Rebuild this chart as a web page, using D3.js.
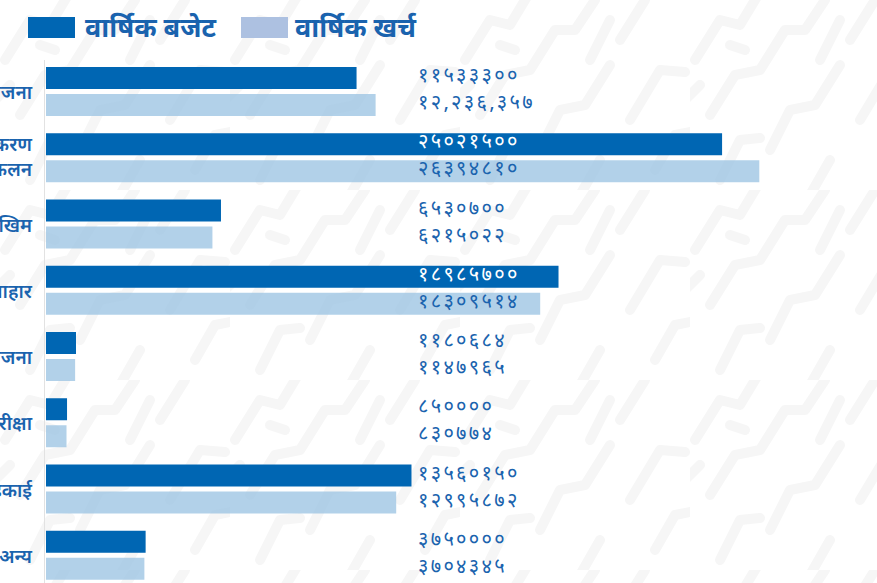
<!DOCTYPE html>
<html><head><meta charset="utf-8">
<script src="https://cdn.jsdelivr.net/npm/d3@7/dist/d3.min.js"></script>
<style>
html,body{margin:0;padding:0;background:#fff;overflow:hidden;}
svg{display:block;}
</style></head>
<body>
<svg id="chart" width="877" height="583"></svg>
<script>
const categories = [
  ["पूर्वाधार योजना"],
  ["क्षमता सशक्तिकरण", "राजस्व संकलन"],
  ["विपद् जोखिम"],
  ["पोषण आहार"],
  ["सामाजिक योजना"],
  ["अनुगमन परीक्षा"],
  ["स्थानीय इकाई"],
  ["अन्य"]
];
const seriesNames = ["वार्षिक बजेट", "वार्षिक खर्च"];
const budget  = [11533300, 25021500, 6530700, 18985700, 1180684, 850000, 13560150, 3750000];
const expense = [12236357, 26394810, 6215022, 18309514, 1147965, 830774, 12995872, 3704345];
const budgetLabels  = ["११५३३३००","२५०२१५००","६५३०७००","१८९८५७००","११८०६८४","८५००००","१३५६०१५०","३७५००००"];
const expenseLabels = ["१२,२३६,३५७","२६३९४८१०","६२१५०२२","१८३०९५१४","११४७९६५","८३०७७४","१२९९५८७२","३७०४३४५"];

const W = 877, H = 583;
const svg = d3.select("#chart");
const DARK = "#0066b3", LIGHT = "#9fc5e3", LEG_LIGHT = "#adc1e1", TXT = "#1a63ae";

// faint maze-like background
const defs = svg.append("defs");
const pat = defs.append("pattern").attr("id","bg").attr("patternUnits","userSpaceOnUse")
  .attr("width",230).attr("height",190);
const pp = [
  "M5,60 L30,20 L50,25 L68,-5",
  "M20,115 L45,75 L70,70 L95,30 L115,30 L135,0",
  "M80,150 L100,110 L125,105 L150,65",
  "M-5,100 L10,85",
  "M55,50 L40,45",
  "M160,40 L185,0",
  "M170,120 L200,70 L225,72",
  "M30,180 L50,140 L70,138",
  "M120,195 L140,160",
  "M195,170 L215,135 L240,130",
  "M150,20 L130,60"
];
pat.selectAll("path").data(pp).join("path").attr("d",d=>d)
  .attr("fill","none").attr("stroke","#f6f6f6").attr("stroke-width",10)
  .attr("stroke-linecap","round").attr("stroke-linejoin","round");
svg.append("rect").attr("width",W).attr("height",H).attr("fill","url(#bg)");

const x = d3.scaleLinear().domain([0, 30000000]).range([44, 857]);
const y = d3.scaleBand().domain(d3.range(categories.length)).range([60, 590]).padding(0);
const barH = 22, off1 = 7, off2 = 34, gapL = 2;

// axis line
svg.append("line").attr("x1",44.5).attr("x2",44.5).attr("y1",60).attr("y2",H)
  .attr("stroke","#e2e2e2").attr("stroke-width",1);

const g = svg.append("g");
g.selectAll("rect.b").data(budget).join("rect").attr("class","b")
  .attr("x",x(0)+gapL).attr("y",(d,i)=>y(i)+off1).attr("width",d=>x(d)-x(0)-gapL).attr("height",barH)
  .attr("fill",DARK);
g.selectAll("rect.e").data(expense).join("rect").attr("class","e")
  .attr("x",x(0)+gapL).attr("y",(d,i)=>y(i)+off2).attr("width",d=>x(d)-x(0)-gapL).attr("height",barH)
  .attr("fill",LIGHT).attr("fill-opacity",0.8);

const labX = 418;
const numFont = "'Noto Sans Devanagari','Noto Sans','DejaVu Sans',sans-serif";
g.selectAll("text.bl").data(budget).join("text").attr("class","bl")
  .attr("x",labX).attr("y",(d,i)=>y(i)+off1+15)
  .attr("font-family",numFont).attr("font-size",20).attr("font-weight",400)
  .attr("letter-spacing",2.3)
  .attr("fill",d=>x(d) > labX+60 ? "#ffffff" : TXT)
  .text((d,i)=>budgetLabels[i]);
g.selectAll("text.el").data(expense).join("text").attr("class","el")
  .attr("x",labX).attr("y",(d,i)=>y(i)+off2+15)
  .attr("font-family",numFont).attr("font-size",20).attr("font-weight",400)
  .attr("letter-spacing",2.3)
  .attr("fill",TXT)
  .text((d,i)=>expenseLabels[i]);

// category labels (cut off at left like the reference)
const cl = svg.append("g");
categories.forEach((lines,i)=>{
  const t = cl.append("text").attr("text-anchor","end")
    .attr("font-family",numFont).attr("font-size",19).attr("font-weight",600).attr("fill",TXT);
  if (lines.length === 1) {
    t.append("tspan").attr("x",32).attr("y",y(i)+off1+28+4).text(lines[0]);
  } else {
    t.append("tspan").attr("x",32).attr("y",y(i)+off1+barH/2+7).text(lines[0]);
    t.append("tspan").attr("x",32).attr("y",y(i)+off2+barH/2+5).text(lines[1]);
  }
});

// legend
const leg = svg.append("g");
const legItems = [{c:DARK, x:28, tx:85},{c:LEG_LIGHT, x:241, tx:295}];
legItems.forEach((it,i)=>{
  leg.append("rect").attr("x",it.x).attr("y",17).attr("width",47).attr("height",21).attr("fill",it.c);
  leg.append("text").attr("x",it.tx).attr("y",37)
    .attr("font-family",numFont).attr("font-size",27).attr("font-weight",700).attr("fill",TXT)
    .text(seriesNames[i]);
});
</script>
</body></html>
